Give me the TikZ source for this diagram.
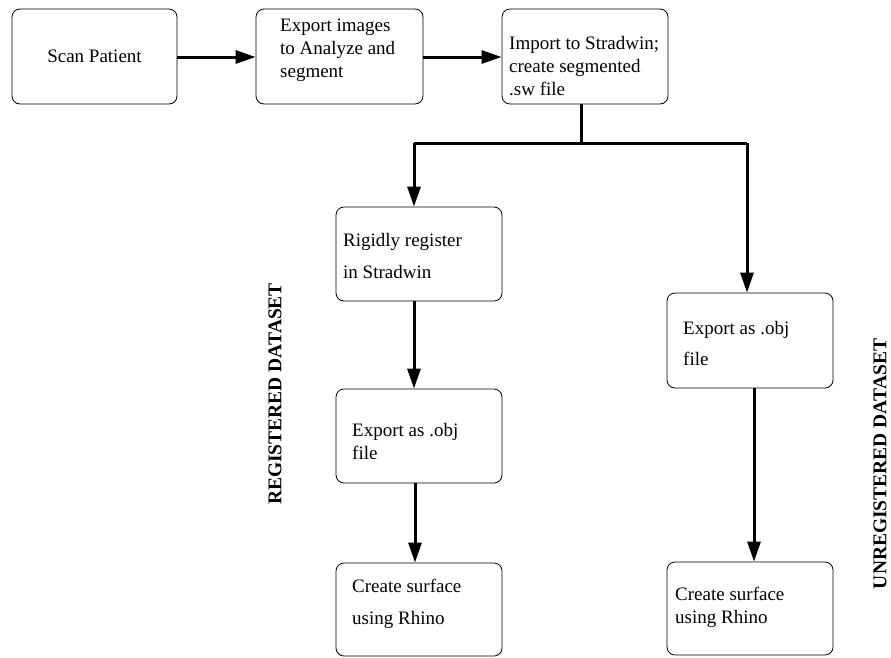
\documentclass[tikz,border=0pt]{standalone}
\usepackage{fontspec}
\setmainfont{Liberation Serif}
\usetikzlibrary{arrows.meta}
\tikzset{
  box/.style={draw, line width=0.8pt, rounded corners=8pt, inner sep=0pt},
  lbl/.style={anchor=west, align=left, inner sep=0pt, font=\fontsize{19}{23}\selectfont},
  conn/.style={line width=3pt},
  arr/.style={conn, -{Triangle[length=20pt,width=13pt]}},
  side/.style={rotate=90, inner sep=0pt, font=\fontsize{19.5}{23}\selectfont\bfseries}
}
\begin{document}
\begin{tikzpicture}[x=1pt,y=-1pt]
\useasboundingbox (0,0) rectangle (891,657);
% boxes
\node[box, minimum width=165pt, minimum height=95pt] (scan) at (94.5,56.5) {};
\node[box, minimum width=167pt, minimum height=95pt] (expimg) at (339.5,56.5) {};
\node[box, minimum width=166pt, minimum height=95pt] (imp) at (585,56.5) {};
\node[box, minimum width=166pt, minimum height=94pt] (rigid) at (419,254) {};
\node[box, minimum width=166pt, minimum height=94pt] (expL) at (419,436) {};
\node[box, minimum width=166pt, minimum height=93pt] (surfL) at (419,609.5) {};
\node[box, minimum width=166pt, minimum height=95pt] (expR) at (750,340.5) {};
\node[box, minimum width=166pt, minimum height=93pt] (surfR) at (750,608.5) {};
% texts
\node[lbl, anchor=center] (tscan) at (scan.center) {Scan Patient};
\node[lbl] (texpimg) at (280,50.5) {Export images\\to Analyze and\\segment};
\node[lbl] (timp) at (509,66.5) {Import to Stradwin;\\create segmented\\.sw file};
\node[lbl] (trigid) at (343,256) {Rigidly register\\[9pt]in Stradwin};
\node[lbl] (texpL) at (352,441.5) {Export as .obj\\file};
\node[lbl] (tsurfL) at (352,604) {Create surface\\[9pt]using Rhino};
\node[lbl] (texpR) at (683,343.5) {Export as .obj\\[8pt]file};
\node[lbl] (tsurfR) at (675,607.5) {Create surface\\using Rhino};
% side labels
\node[side] (reg) at (275,394) {REGISTERED DATASET};
\node[side] (unreg) at (880,464) {UNREGISTERED DATASET};
% connectors
\coordinate (split) at (581,143);
\coordinate (splitL) at (414,143);
\coordinate (splitR) at (747,143);
\draw[arr] (scan.east |- 0,57) -- (expimg.west |- 0,57);
\draw[arr] (expimg.east |- 0,57) -- (imp.west |- 0,57);
\draw[conn] (imp.south -| split) -- (split);
\draw[conn] (splitL) -- (splitR);
\draw[arr] (splitL) -- (splitL |- rigid.north);
\draw[arr] (splitR) -- (splitR |- expR.north);
\draw[arr] (rigid.south -| 414,0) -- (expL.north -| 414,0);
\draw[arr] (expL.south -| 415,0) -- (surfL.north -| 415,0);
\draw[arr] (expR.south -| 754,0) -- (surfR.north -| 754,0);
\end{tikzpicture}
\end{document}
